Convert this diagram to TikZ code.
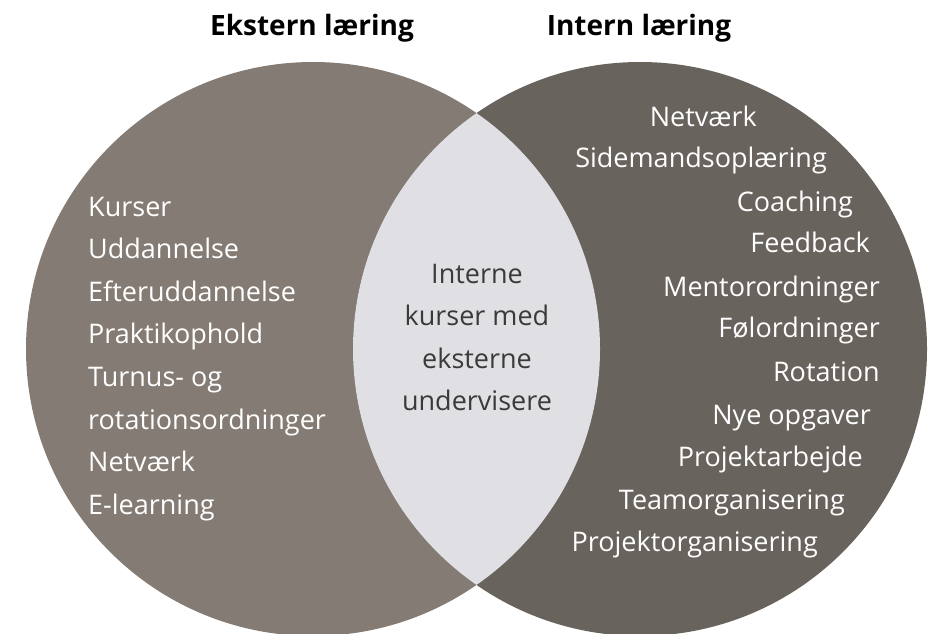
\documentclass[tikz,border=0pt]{standalone}
\usepackage{fontspec}
\setmainfont{Open Sans}
\usetikzlibrary{positioning}
\definecolor{extgray}{HTML}{847B74}
\definecolor{intgray}{HTML}{68635C}
\definecolor{lensgray}{HTML}{E0DFE4}
\definecolor{darktext}{HTML}{3A3A3A}

\begin{document}
\begin{tikzpicture}[x=1pt,y=-1pt,
    bigcircle/.style={circle,inner sep=0pt,minimum size=574pt},
    heading/.style={font=\fontsize{28}{34}\selectfont\bfseries,inner sep=0pt,anchor=base},
    item/.style={text=white,font=\fontsize{27}{42.6}\selectfont,inner sep=0pt,anchor=base east}]
        \useasboundingbox (0,0) rectangle (936,633);
        \clip (0,0) rectangle (936,633);

        \node[bigcircle,fill=extgray] (ext) at (313,349) {};
        \node[bigcircle,fill=intgray] (int) at (640,349) {};
        \begin{scope}
            \clip (ext.center) circle (287pt);
            \fill[lensgray] (int.center) circle (287pt);
        \end{scope}

        \node[heading] (ekstern) at (312,35) {Ekstern læring};
        \node[heading] (intern) at (639,35) {Intern læring};

        \node[item,anchor=north west,align=left] (extlist) at (88,196.7) {Kurser\\Uddannelse\\Efteruddannelse\\Praktikophold\\Turnus- og\\rotationsordninger\\Netværk\\E-learning};
        \node[item,anchor=north,align=center,text=darktext] (faelles) at (477,263.7) {Interne\\kurser med\\eksterne\\undervisere};

        \node[item] (netvaerk) at (757,126) {Netværk};
        \node[item] (sidemand) at (827,167) {Sidemandsoplæring};
        \node[item] (coaching) at (853,211) {Coaching};
        \node[item] (feedback) at (870,252) {Feedback};
        \node[item] (mentor) at (880,296) {Mentorordninger};
        \node[item] (foel) at (880,337) {Følordninger};
        \node[item] (rotation) at (880,381) {Rotation};
        \node[item] (opgaver) at (871,424) {Nye opgaver};
        \node[item] (projarb) at (863,466) {Projektarbejde};
        \node[item] (team) at (845,509) {Teamorganisering};
        \node[item] (projorg) at (818,551) {Projektorganisering};
    \end{tikzpicture}
\end{document}
